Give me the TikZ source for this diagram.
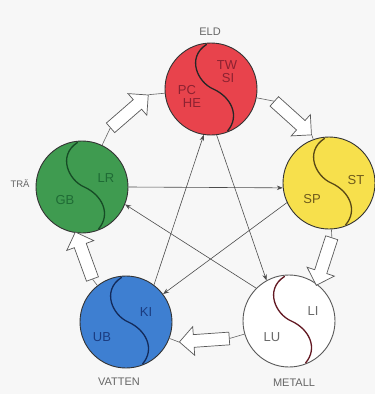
\documentclass[tikz,border=0pt]{standalone}
\usepackage{fontspec}
\setmainfont{Liberation Sans}
\usetikzlibrary{shapes.arrows,arrows.meta}
\definecolor{bgc}{HTML}{F7F7F7}
\definecolor{cred}{HTML}{E8434C}
\definecolor{cgreen}{HTML}{3F9B50}
\definecolor{cyellow}{HTML}{F7E04C}
\definecolor{cblue}{HTML}{3E7FD1}
\definecolor{tred}{HTML}{8C2231}
\definecolor{tgreen}{HTML}{1F6B35}
\definecolor{tyellow}{HTML}{6E5A1C}
\definecolor{tblue}{HTML}{1B3C80}
\definecolor{twhite}{HTML}{6A6A6A}
\newcommand\yyline[2]{\begin{scope}[shift={(#1.center)},x=45pt,y=45pt]\draw[draw=#2,line width=1.3pt,line cap=round] (-0.1,0.99) .. controls (-0.55,0.7) and (-0.3,0.15) .. (0.05,0) .. controls (0.45,-0.18) and (0.65,-0.6) .. (0.37,-0.93);\end{scope}}
\tikzset{
 ball/.style={circle, draw=#1, line width=0.9pt, minimum size=92pt, inner sep=0pt},
 block/.style={single arrow, draw=black!65, fill=white, line width=0.7pt, inner xsep=0pt, inner ysep=6pt, single arrow head extend=8pt, minimum height=50pt},
 link/.style={draw=black!60, line width=0.6pt},
 ctrl/.style={draw=black!70, line width=0.6pt, -{Stealth[length=6pt,width=4.5pt]}},
 lbl/.style={font=\fontsize{11}{13}\selectfont, text=black!60, inner sep=0pt},
 intext/.style={font=\fontsize{13}{14}\selectfont, inner sep=0pt},
}
\begin{document}
\begin{tikzpicture}[x=1pt,y=-1pt]
\useasboundingbox (0,0) rectangle (375,394);
\fill[bgc] (0,0) rectangle (375,394);
% circles
\node[ball=black!80, fill=cred] (red) at (211,89) {};
\node[ball=black!80, fill=cgreen] (green) at (82,187) {};
\node[ball=black!80, fill=cyellow] (yellow) at (329,183) {};
\node[ball=black!80, fill=cblue] (blue) at (126,322) {};
\node[ball=black!65, fill=white] (white) at (289,321) {};
\yyline{red}{black!85}
\yyline{green}{tgreen!70!black}
\yyline{yellow}{tyellow!80!black}
\yyline{blue}{tblue!70!black}
\yyline{white}{tred!70!black}
% inner texts
\node[intext, text=tred] (tw) at (227,65) {TW};
\node[intext, text=tred] (si) at (228,78) {SI};
\node[intext, text=tred] (pc) at (187,90) {PC};
\node[intext, text=tred] (he) at (192,103) {HE};
\node[intext, text=tgreen] (lr) at (106,178) {LR};
\node[intext, text=tgreen] (gb) at (65,200) {GB};
\node[intext, text=tyellow] (st) at (356,180) {ST};
\node[intext, text=tyellow] (sp) at (312,199) {SP};
\node[intext, text=tblue] (ki) at (146,312) {KI};
\node[intext, text=tblue] (ub) at (102,337) {UB};
\node[intext, text=twhite] (li) at (313,311) {LI};
\node[intext, text=twhite] (lu) at (272,337) {LU};
% outer labels
\node[lbl] (eld) at (210,32) {ELD};
\node[lbl, font=\fontsize{9.5}{11}\selectfont] (tra) at (20,184) {TRÄ};
\node[lbl] (vatten) at (119,382) {VATTEN};
\node[lbl] (metall) at (294,383) {METALL};
% block arrows (generating cycle)
\node[block, rotate=41] (a1) at (127,113.5) {};
\node[block, rotate=-42] (a2) at (290.5,116) {};
\node[block, rotate=-108] (a3) at (325,258.5) {};
\node[block, rotate=-176] (a4) at (207.5,340) {};
\node[block, rotate=110] (a5) at (85,258.5) {};
\draw[link] (green) -- (a1.tail);
\draw[link] (a1.tip) -- (red);
\draw[link] (red) -- (a2.tail);
\draw[link] (a2.tip) -- (yellow);
\draw[link] (yellow) -- (a3.tail);
\draw[link] (a3.tip) -- (white);
\draw[link] (white) -- (a4.tail);
\draw[link] (a4.tip) -- (blue);
\draw[link] (blue) -- (a5.tail);
\draw[link] (a5.tip) -- (green);
% control star
\draw[ctrl] (green.0) -- (yellow.-174);
\draw[ctrl] (yellow.-155) -- (blue.37);
\draw[ctrl] (blue.53) -- (red.-99);
\draw[ctrl] (red.-83) -- (white.119);
\draw[ctrl] (white.135) -- (green.-22);
\end{tikzpicture}
\end{document}
